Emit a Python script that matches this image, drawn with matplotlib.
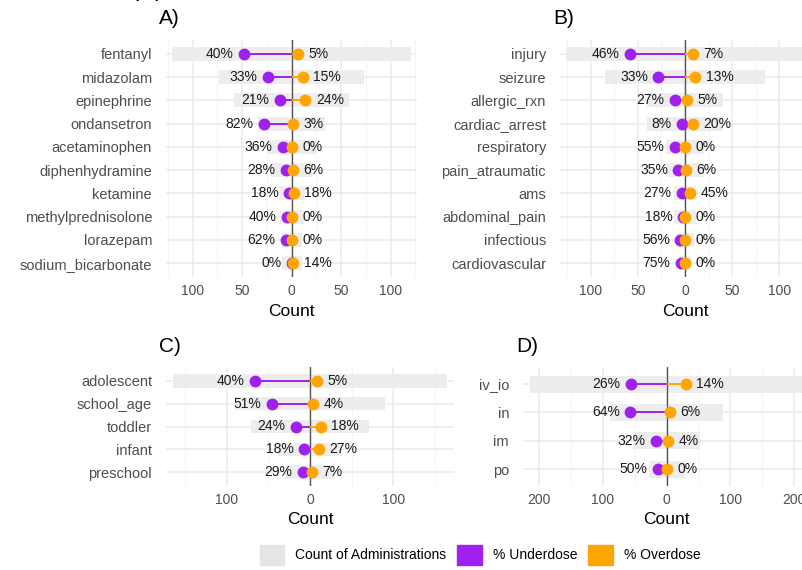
import numpy as np
import matplotlib
matplotlib.use("Agg")
import matplotlib.pyplot as plt
from matplotlib.patches import Patch

plt.rcParams['font.family'] = ['Liberation Sans', 'DejaVu Sans']

# A) by medication
drug_names = ['fentanyl', 'midazolam', 'epinephrine', 'ondansetron', 'acetaminophen',
              'diphenhydramine', 'ketamine', 'methylprednisolone', 'lorazepam',
              'sodium_bicarbonate']
drug_counts = [121, 73, 58, 34, 25, 21, 13, 12, 10, 10]
drug_under = [40, 33, 21, 82, 36, 28, 18, 40, 62, 0]
drug_over = [5, 15, 24, 3, 0, 6, 18, 0, 0, 14]

# B) by complaint
complaint_names = ['injury', 'seizure', 'allergic_rxn', 'cardiac_arrest', 'respiratory',
                   'pain_atraumatic', 'ams', 'abdominal_pain', 'infectious',
                   'cardiovascular']
complaint_counts = [126, 85, 40, 40, 20, 20, 12, 12, 9, 6]
complaint_under = [46, 33, 27, 8, 55, 35, 27, 18, 56, 75]
complaint_over = [7, 13, 5, 20, 0, 6, 45, 0, 0, 0]

# C) by age group
age_names = ['adolescent', 'school_age', 'toddler', 'infant', 'preschool']
age_counts = [165, 90, 71, 38, 30]
age_under = [40, 51, 24, 18, 29]
age_over = [5, 4, 18, 27, 7]

# D) by route
route_names = ['iv_io', 'in', 'im', 'po']
route_counts = [215, 89, 53, 28]
route_under = [26, 64, 32, 50]
route_over = [14, 6, 4, 0]

PURPLE = '#A020F0'
ORANGE = '#FFA500'
BAR = '#EDEDED'
GRID = '#EBEBEB'

W, H = 803, 570
fig = plt.figure(figsize=(W / 100, H / 100), dpi=100)


def px_axes(left, top, right, bottom):
    return fig.add_axes([left / W, 1 - bottom / H, (right - left) / W, (bottom - top) / H])


def draw_panel(ax, cats, counts, under, over, major, minor, title, tx, ty):
    y = np.arange(len(cats))
    counts = np.array(counts, dtype=float)
    u = -counts * np.array(under) / 100
    o = counts * np.array(over) / 100
    lim = counts.max() * 1.05

    ax.barh(y, 2 * counts, left=-counts, height=0.6, color=BAR, zorder=1)
    ax.axvline(0, color='#555555', lw=1.0, zorder=2)
    ax.hlines(y, u, 0, color=PURPLE, lw=1.4, zorder=3)
    ax.hlines(y, 0, o, color=ORANGE, lw=1.4, zorder=3)
    ax.plot(u, y, 'o', color=PURPLE, ms=7.5, zorder=4)
    ax.plot(o, y, 'o', color=ORANGE, ms=7.5, zorder=5)

    for yi, ui, oi, pu, po in zip(y, u, o, under, over):
        ax.annotate(f"{pu}%", (ui, yi), xytext=(-7.5, 0), textcoords='offset points',
                    ha='right', va='center', fontsize=10, color='#1A1A1A', zorder=6)
        ax.annotate(f"{po}%", (oi, yi), xytext=(7.5, 0), textcoords='offset points',
                    ha='left', va='center', fontsize=10, color='#1A1A1A', zorder=6)

    ax.set_xlim(-lim, lim)
    ax.set_ylim(len(cats) - 1 + 0.6, -0.6)
    ax.set_yticks(y)
    ax.set_yticklabels(cats)
    ax.set_xticks(major)
    ax.set_xticklabels([str(abs(t)) for t in major])
    ax.set_xticks(minor, minor=True)
    ax.set_axisbelow(True)
    ax.grid(which='major', color=GRID, lw=1.1)
    ax.grid(which='minor', axis='x', color='#F3F3F3', lw=0.6)
    for s in ax.spines.values():
        s.set_visible(False)
    ax.tick_params(which='both', length=0)
    ax.tick_params(axis='y', pad=10, labelsize=10.5, labelcolor='#4D4D4D')
    ax.tick_params(axis='x', pad=5, labelsize=10, labelcolor='#4D4D4D')
    ax.set_xlabel('Count', fontsize=12.5, labelpad=4)
    fig.text(tx / W, 1 - ty / H, title, fontsize=15, ha='left', va='center')


axA = px_axes(166, 40, 417.4, 277)
draw_panel(axA, drug_names, drug_counts, drug_under, drug_over,
           [-100, -50, 0, 50, 100], [-125, -75, -25, 25, 75, 125], 'A)', 159, 19)

axB = px_axes(560, 40, 810, 277)
draw_panel(axB, complaint_names, complaint_counts, complaint_under, complaint_over,
           [-100, -50, 0, 50, 100], [-125, -75, -25, 25, 75, 125], 'B)', 553, 19)

axC = px_axes(166, 367, 454, 486)
draw_panel(axC, age_names, age_counts, age_under, age_over,
           [-100, 0, 100], [-150, -50, 50, 150], 'C)', 159, 347)

axD = px_axes(523, 367, 810.4, 486)
draw_panel(axD, route_names, route_counts, route_under, route_over,
           [-200, -100, 0, 100, 200], [-150, -50, 50, 150], 'D)', 516, 347)

# clipped heading from the full figure
fig.text(147 / W, 1 + 4 / H, '(A)', fontsize=18, ha='center', va='baseline')

handles = [Patch(color='#E5E5E5', label='Count of Administrations'),
           Patch(color=PURPLE, label='% Underdose'),
           Patch(color=ORANGE, label='% Overdose')]
fig.legend(handles=handles, loc='center', bbox_to_anchor=(480 / W, 1 - 555 / H), ncol=3,
           frameon=False, fontsize=10, handlelength=1.75, handleheight=1.75,
           handletextpad=0.8, columnspacing=0.8)

fig.savefig('out.png', dpi=100)
